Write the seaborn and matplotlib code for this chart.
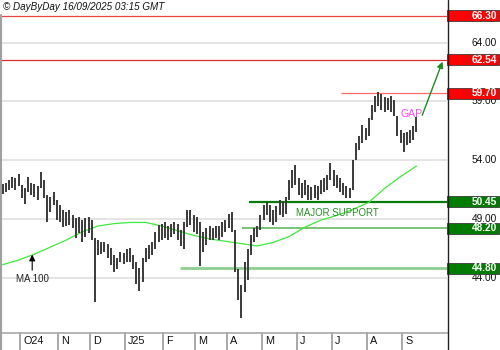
import numpy as np
import pandas as pd
import matplotlib
matplotlib.use('Agg')
import matplotlib.pyplot as plt
import seaborn as sns
from matplotlib.transforms import blended_transform_factory, offset_copy
from matplotlib.patches import Rectangle
from matplotlib.lines import Line2D

# ---------------- data ----------------
# one bar per two trading days, starting 2024-09-13
highs = [52.0, 52.1, 52.3, 52.6, 52.5, 52.8, 51.9, 51.6, 52.6, 52.1,
         52.0, 51.8, 53.0, 52.3, 51.0, 50.9, 51.3, 50.6, 50.2, 49.8,
         49.6, 49.8, 49.3, 49.1, 49.2, 48.9, 49.1, 49.2, 48.9, 47.4,
         47.2, 47.0, 47.0, 46.9, 46.5, 45.9, 45.7, 46.2, 46.1, 46.4,
         46.5, 45.9, 45.3, 44.8, 45.7, 46.5, 46.8, 47.0, 47.9, 48.5,
         48.6, 48.7, 48.4, 48.6, 48.7, 48.6, 48.1, 48.7, 49.8, 49.8,
         49.3, 49.2, 48.7, 47.9, 48.2, 48.4, 48.2, 48.4, 48.4, 48.7,
         48.9, 49.4, 49.6, 48.1, 44.7, 43.4, 45.3, 46.4, 47.6, 48.2,
         48.4, 49.3, 50.2, 50.4, 50.2, 49.8, 50.1, 50.6, 50.4, 50.9,
         52.3, 53.2, 53.6, 52.5, 52.1, 52.3, 51.9, 51.7, 51.9, 51.8,
         52.3, 52.5, 52.7, 53.8, 53.2, 52.7, 52.5, 52.1, 51.8, 51.6,
         54.0, 55.5, 56.1, 57.0, 56.7, 57.6, 58.7, 59.5, 59.8, 59.6,
         59.4, 59.3, 59.5, 59.1, 57.8, 56.6, 56.3, 56.4, 56.6, 56.9,
         57.7]
lows = [51.1, 51.3, 51.5, 51.6, 51.5, 51.8, 50.8, 50.3, 51.3, 51.0,
        50.9, 50.6, 51.6, 50.8, 48.7, 49.6, 50.2, 48.9, 48.7, 48.3,
        48.4, 48.5, 48.2, 47.4, 47.8, 47.0, 47.5, 47.8, 47.2, 41.9,
        45.9, 46.0, 46.2, 45.7, 45.1, 44.5, 44.7, 45.3, 45.2, 45.3,
        45.3, 44.7, 43.5, 42.9, 43.6, 45.3, 45.6, 45.9, 46.4, 47.0,
        47.2, 47.4, 47.2, 47.5, 47.7, 47.2, 46.7, 46.4, 48.3, 48.5,
        47.9, 47.7, 45.0, 46.2, 46.8, 47.2, 47.2, 47.4, 47.2, 47.5,
        47.9, 48.2, 47.9, 44.5, 42.1, 40.6, 42.8, 43.8, 45.9, 47.0,
        47.5, 48.1, 48.9, 49.3, 48.7, 48.5, 48.7, 49.3, 49.2, 49.4,
        50.6, 51.6, 51.9, 51.0, 50.8, 51.0, 50.6, 50.6, 50.8, 50.6,
        51.1, 51.3, 51.5, 52.3, 51.8, 51.6, 51.3, 51.0, 50.8, 50.8,
        51.5, 54.0, 54.9, 55.5, 55.7, 56.1, 57.4, 58.1, 58.6, 58.3,
        58.1, 58.3, 58.1, 57.8, 56.1, 55.5, 54.7, 55.3, 55.5, 55.7,
        56.4]
# 100-day moving average, sampled every 5th bar
ma100 = [45.1, 45.5, 46.0, 46.6, 47.2, 47.9, 48.4, 48.6, 48.7, 48.7,
         48.4, 48.0, 47.6, 47.3, 47.1, 46.9, 46.7, 47.0, 47.5, 48.3,
         48.9, 49.3, 49.8, 50.4, 51.6, 52.6, 53.5]
ma_step = 5

resistance_levels = [66.30, 62.54, 59.70]
support_levels = [50.45, 48.20, 44.80]
grid_values = [64.00, 59.00, 54.00, 49.00, 44.00]
month_labels = ['O24', 'N', 'D', 'J25', 'F', 'M', 'A', 'M', 'J', 'J', 'A', 'S']
header = '\u00a9 DayByDay 16/09/2025 03:15 GMT'

# ---------------- style ----------------
res_styles = [dict(color='#e84545', lw=0.9, start=None),
              dict(color='#d83030', lw=0.9, start=None),
              dict(color='#ff6a6a', lw=0.9, start=106.4)]
sup_styles = [dict(color='#0a7a0a', lw=1.6, start=77.5),
              dict(color='#6cbf6c', lw=1.3, start=75.3),
              dict(color='#8fcc8f', lw=2.0, start=55.8)]

sns.set_theme(style='white')
plt.rcParams['font.family'] = ['Liberation Sans', 'DejaVu Sans']

W, H = 500, 350
fig = plt.figure(figsize=(5, 3.5), dpi=100)
ax_left, ax_right, ax_bottom, ax_top = 1, 447, 333, 15
ax = fig.add_axes([ax_left / W, (H - ax_bottom) / H,
                   (ax_right - ax_left) / W, (ax_bottom - ax_top) / H])

n = len(highs)
dates = pd.bdate_range('2024-09-13', periods=2 * n)[::2]
bars = pd.DataFrame({'i': np.arange(n), 'high': highs, 'low': lows, 'date': dates})
ma_df = pd.DataFrame({'i': np.arange(0, n, ma_step)[:len(ma100)], 'ma': ma100})

xmin, xmax = -0.5, 139.6
ymin, ymax = 39.29, 66.36
ax.set_xlim(xmin, xmax)
ax.set_ylim(ymin, ymax)

# grid lines
for g in grid_values:
    ax.axhline(g, color='#dcdcdc', lw=1.1, zorder=0)

# level lines
for lv, st in zip(resistance_levels, res_styles):
    ax.hlines(lv, st['start'] if st['start'] is not None else xmin, xmax,
              color=st['color'], lw=st['lw'], zorder=1)
for lv, st in zip(support_levels, sup_styles):
    ax.hlines(lv, st['start'], xmax, color=st['color'], lw=st['lw'], zorder=1)

# price bars
ax.vlines(bars['i'], bars['low'], bars['high'], color='#3a3a3a', lw=1.4, zorder=3)

# moving average
sns.lineplot(data=ma_df, x='i', y='ma', color='#3ee83e', lw=0.9, ax=ax, zorder=2)

ax.set_xlabel('')
ax.set_ylabel('')
ax.set_xticks([])
ax.set_yticks([])
for s in ['top', 'left', 'right']:
    ax.spines[s].set_visible(False)
ax.spines['bottom'].set_color('#b0b0b0')
ax.spines['bottom'].set_linewidth(1.3)

# annotations
ax.annotate('', xy=(9.3, 46.2), xytext=(9.3, 44.4),
            arrowprops=dict(arrowstyle='-|>', color='black', lw=0.8, mutation_scale=9))
ax.text(9.3, 43.85, 'MA 100', fontsize=7, ha='center', va='center', color='#222222')
ax.text(105.2, 49.5, 'MAJOR SUPPORT', fontsize=6.9, ha='center', va='center', color='#2a8a2a')
ax.text(128.4, 57.93, 'GAP', fontsize=7.6, ha='center', va='center', color='#ff44ff')
ax.annotate('', xy=(138.5, 62.61), xytext=(131.5, 57.6),
            arrowprops=dict(arrowstyle='-|>', color='#1e8c1e', lw=1.0, mutation_scale=9))

# right-side labels
tr = blended_transform_factory(fig.transFigure, ax.transData)
for g in grid_values:
    ax.text(497 / W, g, f'{g:.2f}', transform=tr, fontsize=7.3, ha='right',
            va='center', color='#111111', clip_on=False)
box_h = 11 / ((ax_bottom - ax_top) / (ymax - ymin))
for levels, fc in [(resistance_levels, '#ff0000'), (support_levels, '#007c00')]:
    for lv in levels:
        r = Rectangle((447 / W, lv - box_h / 2), 52 / W, box_h, transform=tr,
                      facecolor=fc, edgecolor='#3a3a3a', lw=0.6, clip_on=False, zorder=5)
        ax.add_artist(r)
        ax.text(497 / W, lv, f'{lv:.2f}', transform=tr, fontsize=7.3, ha='right',
                va='center', color='white', fontweight='bold', clip_on=False, zorder=6)

# month band at the bottom
months = pd.date_range('2024-10-01', '2025-09-01', freq='MS')
month_pos = np.searchsorted(bars['date'].values, months.values) - 0.5
trb = blended_transform_factory(ax.transData, fig.transFigure)
tlab = offset_copy(trb, fig=fig, x=3, y=0, units='dots')
for p, lab in zip(month_pos, month_labels):
    fig.add_artist(Line2D([p, p], [0, (H - ax_bottom) / H], transform=trb,
                          color='#a8a8a8', lw=1.4))
    ax.text(p, 8.5 / H, lab, transform=tlab, fontsize=7.8, ha='left', va='center',
            color='#111111', clip_on=False)

# frame lines
fig.add_artist(Line2D([1 / W, 1 / W], [0, (H - ax_top) / H], transform=fig.transFigure,
                      color='#a0a0a0', lw=1.5))
fig.add_artist(Line2D([447.5 / W, 447.5 / W], [0, 1], transform=fig.transFigure,
                      color='#222222', lw=1.0))

fig.text(3 / W, (H - 7) / H, header, fontsize=7.1, style='italic', va='center',
         ha='left', color='#111111')

fig.savefig('out.png', dpi=100)
